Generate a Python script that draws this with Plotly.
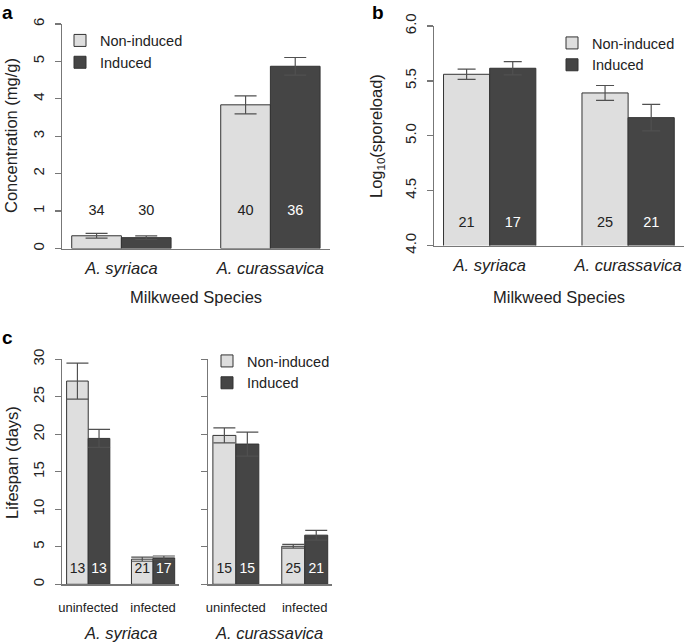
import plotly.graph_objects as go

W, H = 685, 643
FONT = "Liberation Sans, Arial, sans-serif"

# ---------------- data ----------------
groups = ["A. syriaca", "A. curassavica"]
series = ["Non-induced", "Induced"]

conc_ni = [0.34, 3.84]
conc_ni_se = [0.065, 0.24]
conc_ind = [0.29, 4.87]
conc_ind_se = [0.05, 0.235]
conc_n_ni = [34, 40]
conc_n_ind = [30, 36]

spore_ni = [5.56, 5.39]
spore_ni_se = [0.047, 0.068]
spore_ind = [5.615, 5.165]
spore_ind_se = [0.06, 0.12]
spore_n_ni = [21, 25]
spore_n_ind = [17, 21]

status = ["uninfected", "infected"]
life_syr_ni = [27.1, 3.35]
life_syr_ni_se = [2.4, 0.28]
life_syr_ind = [19.45, 3.52]
life_syr_ind_se = [1.2, 0.25]
life_syr_n_ni = [13, 21]
life_syr_n_ind = [13, 17]
life_cur_ni = [19.85, 5.07]
life_cur_ni_se = [1.0, 0.25]
life_cur_ind = [18.7, 6.55]
life_cur_ind_se = [1.6, 0.65]
life_cur_n_ni = [15, 25]
life_cur_n_ind = [15, 21]

conc_ticks = [0, 1, 2, 3, 4, 5, 6]
spore_ticks = [4.0, 4.5, 5.0, 5.5, 6.0]
life_ticks = [0, 5, 10, 15, 20, 25, 30]

# ---------------- style ----------------
C_LIGHT = "#dedede"
C_DARK = "#454545"
C_EDGE = "#333333"
C_AXIS = "#777777"
C_ERR = "#505050"
C_TEXT = "#222222"


def px_x(px):
    return px / W


def px_y(py):
    return 1 - py / H


# group centres for a barplot with beside=TRUE, space=c(0,1)
centres = [2, 5]
offs = [-0.5, 0.5]

fig = go.Figure()


def add_panel(xa, ya, ni, ni_se, ind, ind_se, n_ni, n_ind, label_y, legend, cap, tsize):
    xs_ni = [c + offs[0] for c in centres]
    xs_ind = [c + offs[1] for c in centres]
    for xs, vals, se, col, name in ((xs_ni, ni, ni_se, C_LIGHT, series[0]),
                                     (xs_ind, ind, ind_se, C_DARK, series[1])):
        fig.add_trace(go.Bar(
            x=xs, y=vals, width=1, name=name,
            marker=dict(color=col, line=dict(color=C_EDGE, width=1)),
            error_y=dict(type="data", array=se, visible=True, color=C_ERR,
                         thickness=1.2, width=cap),
            xaxis=xa, yaxis=ya,
            showlegend=legend is not None,
            legend=legend if legend else "legend",
            hoverinfo="skip",
        ))
    # sample-size labels
    xs_all = xs_ni + xs_ind
    ns = n_ni + n_ind
    vals_all = ni + ind
    is_dark = [False] * len(n_ni) + [True] * len(n_ind)
    cols = ["white" if (d and v > label_y) else C_TEXT for d, v in zip(is_dark, vals_all)]
    fig.add_trace(go.Scatter(
        x=xs_all, y=[label_y] * len(xs_all), mode="text",
        text=[str(n) for n in ns],
        textfont=dict(family=FONT, size=tsize, color=cols),
        textposition="middle center",
        xaxis=xa, yaxis=ya, showlegend=False, hoverinfo="skip",
    ))


add_panel("x", "y", conc_ni, conc_ni_se, conc_ind, conc_ind_se,
          conc_n_ni, conc_n_ind, 1.0, "legend", 11, 14.5)
add_panel("x2", "y2", spore_ni, spore_ni_se, spore_ind, spore_ind_se,
          spore_n_ni, spore_n_ind, 4.2, "legend2", 9, 14.5)
add_panel("x3", "y3", life_syr_ni, life_syr_ni_se, life_syr_ind, life_syr_ind_se,
          life_syr_n_ni, life_syr_n_ind, 2.0, "legend3", 11, 14)
add_panel("x4", "y4", life_cur_ni, life_cur_ni_se, life_cur_ind, life_cur_ind_se,
          life_cur_n_ni, life_cur_n_ind, 2.0, None, 11, 14)


def xaxis(dom, ticktext, size, italic, standoff):
    return dict(domain=[px_x(dom[0]), px_x(dom[1])], range=[0.8, 6.2],
                showline=True, linecolor=C_AXIS, linewidth=1.3,
                showgrid=False, zeroline=False, ticks="",
                tickvals=centres, ticktext=ticktext,
                tickfont=dict(family=FONT, size=size, color=C_TEXT,
                              style="italic" if italic else "normal"),
                ticklabelstandoff=standoff, fixedrange=True, automargin=False)


def yaxis(dom, rng, tickvals, ticktext, anchor, show_labels=True):
    return dict(domain=[px_y(dom[1]), px_y(dom[0])], range=rng,
                showline=True, linecolor=C_AXIS, linewidth=1.3,
                showgrid=False, zeroline=False,
                ticks="outside", ticklen=6, tickcolor=C_AXIS, tickwidth=1.3,
                tickvals=tickvals, ticktext=ticktext, showticklabels=show_labels,
                tickangle=-90, ticklabelstandoff=5,
                tickfont=dict(family=FONT, size=15, color=C_TEXT),
                anchor=anchor, fixedrange=True, automargin=False)


A_X, A_Y = (61.8, 330), (24, 248.5)
B_X, B_Y = (434.3, 683.5), (26, 245.5)
C1_X, C_Y = (62.3, 179), (359.3, 584.3)
C2_X = (208.3, 332.3)

leg_common = dict(xanchor="left", yanchor="top",
                  font=dict(family=FONT, size=14.5, color=C_TEXT),
                  bgcolor="rgba(0,0,0,0)", tracegroupgap=0, itemclick=False,
                  itemdoubleclick=False, borderwidth=0)

fig.update_layout(
    width=W, height=H, margin=dict(l=0, r=0, t=0, b=0, autoexpand=False),
    paper_bgcolor="white", plot_bgcolor="white",
    barmode="overlay",
    font=dict(family=FONT, color=C_TEXT),
    xaxis=dict(xaxis(A_X, groups, 16.5, True, 4), anchor="y"),
    yaxis=yaxis(A_Y, [0, 6], conc_ticks, [str(t) for t in conc_ticks], "x"),
    xaxis2=dict(xaxis(B_X, groups, 16.5, True, 4), anchor="y2"),
    yaxis2=yaxis(B_Y, [4, 6], spore_ticks, ["%.1f" % t for t in spore_ticks], "x2"),
    xaxis3=dict(xaxis(C1_X, status, 13, False, 11), anchor="y3"),
    yaxis3=yaxis(C_Y, [0, 30], life_ticks, [str(t) for t in life_ticks], "x3"),
    xaxis4=dict(xaxis(C2_X, status, 13, False, 11), anchor="y4"),
    yaxis4=yaxis(C_Y, [0, 30], life_ticks, [str(t) for t in life_ticks], "x4", False),
    legend=dict(leg_common, x=px_x(60), y=px_y(24.5)),
    legend2=dict(leg_common, x=px_x(552), y=px_y(27)),
    legend3=dict(leg_common, x=px_x(207), y=px_y(345)),
    showlegend=True,
)


def ann(text, x, y, size, angle=0, bold=False, italic=False):
    fig.add_annotation(
        text=("<b>%s</b>" % text) if bold else text,
        x=px_x(x), y=px_y(y), xref="paper", yref="paper",
        xanchor="center", yanchor="middle", showarrow=False, textangle=angle,
        font=dict(family=FONT, size=size, color=C_TEXT if not bold else "black",
                  style="italic" if italic else "normal"))


ann("a", 7, 12, 19, bold=True)
ann("b", 378, 12, 19, bold=True)
ann("c", 7, 337, 19, bold=True)
ann("Concentration (mg/g)", 11, 136, 16.5, angle=-90)
ann("Log<sub>10</sub>(sporeload)", 377, 136, 16.5, angle=-90)
ann("Lifespan (days)", 12, 463, 16.5, angle=-90)
ann("Milkweed Species", 196, 297, 16.5)
ann("Milkweed Species", 559, 297, 16.5)
ann(groups[0], 120, 633, 16.5, italic=True)
ann(groups[1], 269, 633, 16.5, italic=True)

fig.write_html("out.html", config={"displayModeBar": False, "staticPlot": True},
               post_script="document.body.style.margin='0';document.body.style.overflow='hidden';")
